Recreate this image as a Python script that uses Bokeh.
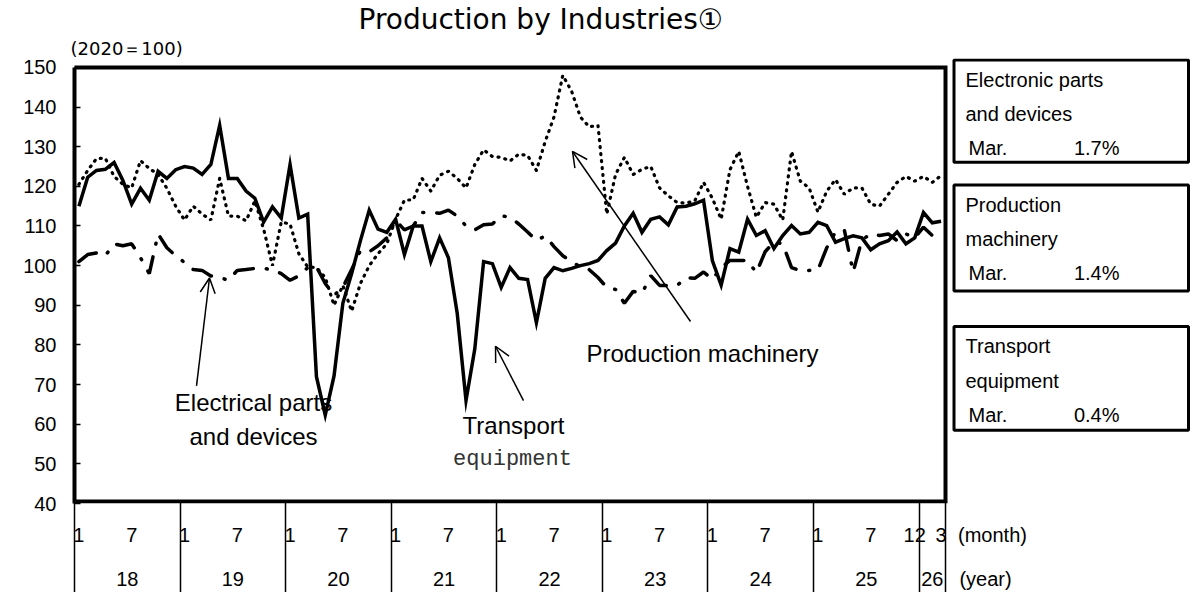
from bokeh.plotting import figure
from bokeh.models import Range1d, FixedTicker, LinearAxis, Label, Arrow, OpenHead, Title
from bokeh.embed import file_html
from bokeh.resources import INLINE
from bokeh.core.properties import value

# ---------------- data (2020 = 100), Jan 2018 .. Mar 2026 ----------------
months = list(range(99))

transport = [
    115, 122.3, 124, 124.3, 126, 121.5, 115.5, 119.5, 116.5, 123.8, 122, 124.2,
    125, 124.6, 123, 125.5, 135.4, 122, 122, 118.8, 117, 111, 114.8, 112,
    125.5, 112, 113, 72, 62.3, 72.2, 90.5, 98, 106.3, 114, 109.2, 108.4,
    111.7, 102.8, 110, 110, 101, 107, 102, 88, 66, 79, 101, 100.5,
    94.5, 99.5, 96.8, 96.5, 85.6, 96.8, 99.5, 98.7, 99.3, 100, 100.5, 101.3,
    103.8, 105.7, 110, 113.2, 108.4, 111.7, 112.3, 110.3, 114.8, 115, 115.6, 116.5,
    101.3, 95.1, 104.3, 103.4, 111.7, 107.6, 108.8, 104.3, 107.6, 110.1, 108, 108.4,
    110.9, 110.1, 105.9, 106.8, 107.5, 107, 104, 105.5, 106.3, 108.5, 105.5, 107,
    113.4, 110.8, 111.2,
]

machinery = [
    120.5, 124, 127, 127.1, 122.5, 120.5, 119.6, 126.5, 124.5, 123, 119.5, 115,
    111.5, 115, 113, 111.5, 122, 112.5, 112.5, 111.3, 116.3, 109.2, 100, 111,
    110.5, 103, 99.7, 99.5, 97, 90, 95, 88.5, 95.5, 100, 103, 105.5,
    111.7, 116.5, 116.6, 122, 118.8, 122.8, 123.8, 122, 119.6, 125.5, 129.2, 127.5,
    127.3, 126.4, 128.1, 127.8, 124, 131.3, 137.5, 148, 144, 137.5, 135, 135.4,
    113, 123, 127.3, 123, 124.3, 125, 119.6, 117.6, 115.9, 115.8, 116.3, 121,
    117, 111.7, 124.2, 128.8, 120, 112.2, 115.9, 115.5, 111.5, 128.8, 121.3, 119.6,
    113.5, 118.8, 121.7, 118, 119.6, 119.6, 115.5, 115, 118, 121, 122.5, 121.3,
    122.5, 121, 122.7,
]

electronic = [
    101, 102.8, 103.2, 102.5, 105.5, 105, 105.5, 102, 98, 108, 104.5, 102.5,
    100.8, 99, 98.8, 97.4, 97, 96.3, 98.8, 99, 99.3, 99.3, 99, 98,
    96.3, 97.4, 99.5, 99.7, 95.5, 92.5, 94.5, 99, 103.8, 103.5, 105, 107,
    111.5, 109, 110, 113.4, 113.5, 113.2, 114, 112.5, 110, 109, 110.3, 110.5,
    112.6, 112.2, 110.5, 108.5, 106.3, 107.5, 104.8, 102.5, 101, 99.7, 99, 97,
    94.5, 94, 90.5, 93.5, 93, 97.5, 95, 95, 95, 97, 96.8, 98.4,
    96.5, 99.5, 101.3, 101.3, 101.3, 98.2, 103.5, 106, 105.5, 99.5, 98.7, 98.8,
    98.9, 104.5, 108.5, 109, 98.4, 106.5, 108, 107.6, 108, 106.3, 108, 107,
    109.7, 107.6, 109.5,
]

y_ticks = [40, 50, 60, 70, 80, 90, 100, 110, 120, 130, 140, 150]
month_tick_pos = [0, 6, 12, 18, 24, 30, 36, 42, 48, 54, 60, 66, 72, 78, 84, 90, 95, 98]
month_tick_lab = ["1", "7"] * 8 + ["12", "3"]
year_tick_pos = [5.5, 17.5, 29.5, 41.5, 53.5, 65.5, 77.5, 89.5, 97]
year_tick_lab = ["18", "19", "20", "21", "22", "23", "24", "25", "26"]
year_bounds = [-0.5, 11.5, 23.5, 35.5, 47.5, 59.5, 71.5, 83.5, 95.5, 98.5]

boxes = [
    ("Electronic parts", "and devices", "1.7%"),
    ("Production", "machinery", "1.4%"),
    ("Transport", "equipment", "0.4%"),
]

# ---------------- geometry (canvas pixels) ----------------
W, H = 1195, 592
BOX_L, BOX_R, BOX_T, BOX_B = 74, 945, 65, 506   # the framed chart box
FT = 56                                          # top of drawing area
X0, X1 = -0.5, 98.5
Y0, Y1 = 40, 150
MW = (BOX_R - BOX_L) / (X1 - X0)                 # px per month
UPX = (BOX_B - BOX_T) / (Y1 - Y0)                # px per index point
FONT = "Liberation Sans"


def dx(px):
    return X0 + (px - BOX_L) / MW


def dy(py):
    return Y0 + (BOX_B - py) / UPX


p = figure(width=W, height=H,
           x_range=Range1d(X0, dx(W)), y_range=Range1d(Y0, dy(FT)),
           output_backend="svg", toolbar_location=None, title=None,
           min_border_left=BOX_L, min_border_right=0,
           min_border_top=FT, min_border_bottom=H - BOX_B)
p.grid.visible = False
p.outline_line_color = None
p.background_fill_color = "white"
p.border_fill_color = "white"

# ---- y axis (left edge of the box) ----
ya = p.yaxis[0]
ya.ticker = FixedTicker(ticks=y_ticks)
ya.bounds = (Y0, Y1)
ya.axis_line_width = 4
ya.axis_line_color = "black"
ya.major_tick_in = 6
ya.major_tick_out = 0
ya.minor_tick_in = 0
ya.minor_tick_out = 0
ya.major_tick_line_width = 1.5
ya.major_label_standoff = 18
ya.major_label_text_font = FONT
ya.major_label_text_font_size = "20px"
ya.major_label_text_color = "black"

# ---- x axis A: month labels (+ caption) ----
xa = p.xaxis[0]
month_pos = month_tick_pos + [dx(992)]
month_lab = month_tick_lab + ["(month)"]
xa.ticker = FixedTicker(ticks=month_pos)
xa.major_label_overrides = dict(zip(month_pos, month_lab))
xa.major_tick_in = 0
xa.major_tick_out = 0
xa.minor_tick_in = 0
xa.minor_tick_out = 0
xa.axis_line_color = None
xa.major_label_standoff = 20
xa.major_label_text_font = FONT
xa.major_label_text_font_size = "20px"
xa.major_label_text_color = "black"

# ---- x axis B: year labels (+ caption) ----
year_pos = year_tick_pos + [dx(985)]
year_lab = year_tick_lab + ["(year)"]
xb = LinearAxis(ticker=FixedTicker(ticks=year_pos),
                major_label_overrides=dict(zip(year_pos, year_lab)),
                major_tick_in=0, major_tick_out=0, minor_tick_in=0, minor_tick_out=0,
                axis_line_color=None, major_label_standoff=19,
                major_label_text_font=FONT, major_label_text_font_size="20px",
                major_label_text_color="black")
p.add_layout(xb, "below")

# ---- x axis C: year boundary lines drawn upward from the bottom ----
xc = LinearAxis(ticker=FixedTicker(ticks=year_bounds),
                major_label_overrides={v: "" for v in year_bounds},
                major_tick_in=92, major_tick_out=0, minor_tick_in=0, minor_tick_out=0,
                major_tick_line_width=1.5, major_tick_line_color="black",
                axis_line_color=None, major_label_standoff=0,
                major_label_text_font_size="0px")
p.add_layout(xc, "below")

# ---- chart box (top, right, bottom edges) ----
p.line(x=[dx(72), X1, X1, X0], y=[Y1, Y1, dy(BOX_B - 2), dy(BOX_B - 2)],
       line_color="black", line_width=4, line_join="miter")

# ---- series ----
p.line(months, transport, line_color="black", line_width=3.5, line_join="miter")
p.line(months, machinery, line_color="black", line_width=3.2, line_dash="1 6",
       line_cap="round")
p.line(months, electronic, line_color="black", line_width=3.5, line_dash="20 13 1 13",
       line_cap="round")

# ---- titles above the box ----
t_unit = Title(text="(2020＝100)", align="left", offset=-4, standoff=0,
               vertical_align="bottom", text_font="DejaVu Sans", text_font_size="18px",
               text_font_style="normal", text_color="black")
t_main = Title(text="Production by Industries①", align="left", offset=358 - BOX_L,
               standoff=0, vertical_align="bottom", text_font="DejaVu Sans",
               text_font_size="28px", text_font_style="normal", text_color="black")
p.add_layout(t_unit, "above")
p.add_layout(t_main, "above")


# ---- annotations inside the box ----
def add_label(px, py, text, size, align="center", font=FONT, color="black"):
    p.add_layout(Label(x=dx(px), y=dy(py), text=text, text_font=font,
                       text_font_size=size, text_align=align,
                       text_baseline="middle", text_color=color))


add_label(253, 404, "Electrical parts", "24px")
add_label(253, 438, "and devices", "24px")
add_label(513, 427, "Transport", "24px")
add_label(512, 462, "equipment", "22px", font="Liberation Mono", color="#333333")
add_label(702, 354, "Production machinery", "24px")

for (sx, sy, ex, ey) in [(196, 387, 209, 278), (523, 402, 495, 347), (690, 322, 572, 150)]:
    p.add_layout(Arrow(end=OpenHead(size=15, line_width=1.5, line_color="black"),
                       x_start=dx(sx), y_start=dy(sy), x_end=dx(ex), y_end=dy(ey),
                       line_width=1.5, line_color="black"))

# ---- right-hand boxes with March changes ----
box_tops = [57.5, 184, 327]
box_bots = [161, 291, 432]
p.quad(left=[dx(953.5)] * 3, right=[dx(1188)] * 3,
       top=[dy(t) for t in box_tops], bottom=[dy(b) for b in box_bots],
       fill_color=None, line_color="black", line_width=3)

row_off = [20, 55, 89]
tx, ty, tt, rx, ry, rt = [], [], [], [], [], []
for (l1, l2, pct), top in zip(boxes, box_tops):
    tx += [dx(965), dx(965), dx(968)]
    ty += [dy(top + o) for o in row_off]
    tt += [l1, l2, "Mar."]
    rx.append(dx(1119))
    ry.append(dy(top + row_off[2]))
    rt.append(pct)
p.text(x=tx, y=ty, text=tt, text_font=value(FONT), text_font_size="20px",
       text_align="left", text_baseline="middle", text_color="black")
p.text(x=rx, y=ry, text=rt, text_font=value(FONT), text_font_size="20px",
       text_align="right", text_baseline="middle", text_color="black")

open("out.html", "w").write(file_html(p, INLINE))
